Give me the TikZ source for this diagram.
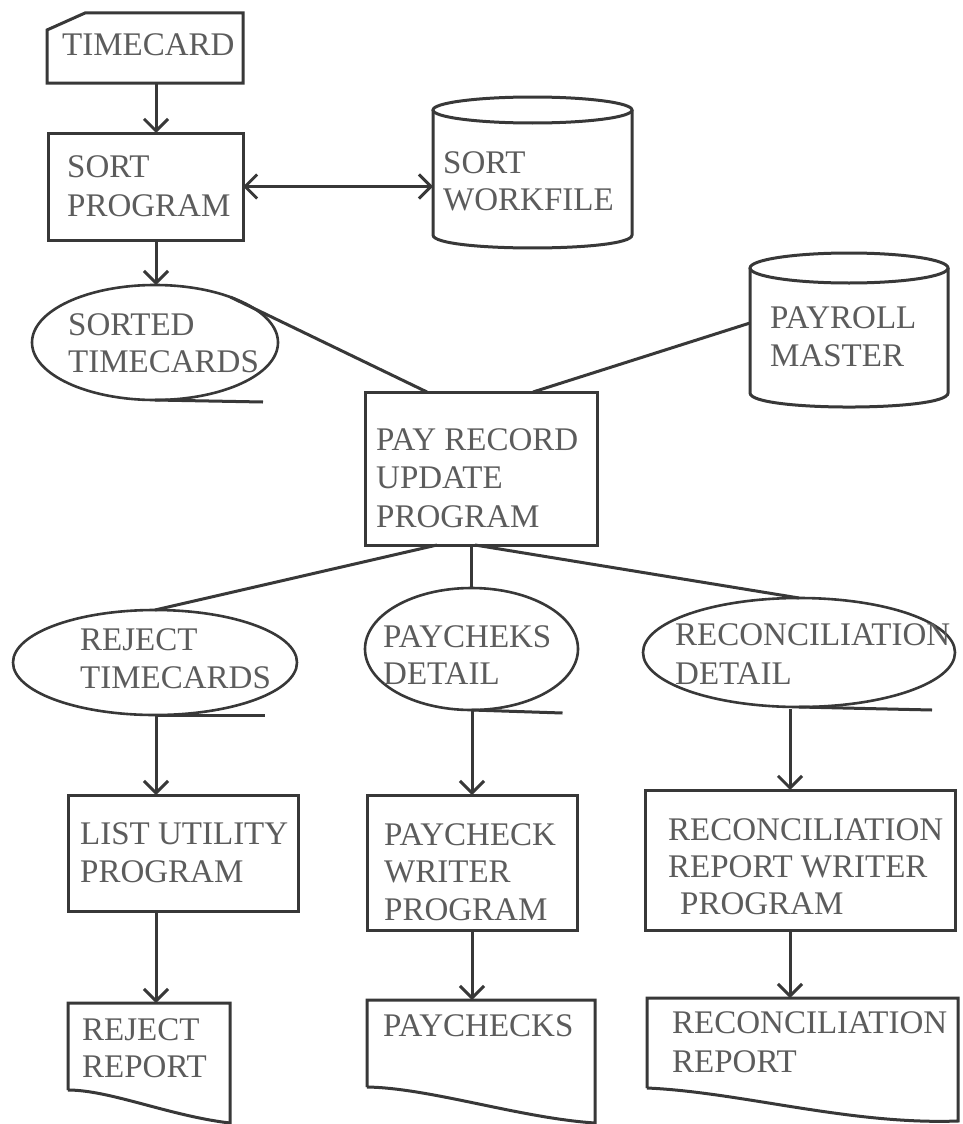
\documentclass[tikz,border=0pt]{standalone}
\usepackage{fontspec}
\setmainfont{Liberation Serif}
\usetikzlibrary{shapes.geometric,arrows.meta,calc}
\definecolor{lnc}{gray}{0.22}
\definecolor{txc}{gray}{0.36}
\begin{document}
\begin{tikzpicture}[x=1pt,y=-1pt,
  ln/.style={draw=lnc, line width=3pt},
  box/.style={rectangle, draw=lnc, line width=3pt, inner sep=0pt, outer sep=0pt},
  tape/.style={ellipse, draw=lnc, line width=2.6pt, inner sep=0pt, outer sep=0pt},
  hold/.style={rectangle, draw=none, inner sep=0pt, outer sep=0pt},
  txt/.style={text=txc, font=\fontsize{33}{38}\selectfont, inner sep=0pt, anchor=base west},
  arr/.style={ln, -{Straight Barb[length=12pt,width=24pt]}},
  darr/.style={ln, {Straight Barb[length=12pt,width=24pt]}-{Straight Barb[length=12pt,width=24pt]}}
]
\useasboundingbox (0,0) rectangle (962,1124);
\fill[white] (0,0) rectangle (962,1124);

% column coordinates
\coordinate (c1) at (156,0);
\coordinate (c2) at (472,0);
\coordinate (c3) at (790,0);

% TIMECARD (card)
\node[hold, minimum width=196pt, minimum height=70pt] (tc) at (145,48) {};
\draw[ln] ($(tc.north west)+(0,17)$) -- ($(tc.north west)+(38,0)$) -- (tc.north east) -- (tc.south east) -- (tc.south west) -- cycle;
\node[txt] (tct) at (62,56) {TIMECARD};

% SORT PROGRAM
\node[box, minimum width=195pt, minimum height=107pt] (sp) at (145.5,186.5) {};
\node[txt] (spt1) at (67,177) {SORT};
\node[txt] (spt2) at (67,216) {PROGRAM};

% SORT WORKFILE (disk)
\node[hold, minimum width=199pt, minimum height=151pt] (sw) at (532.5,172.5) {};
\draw[ln] (532.5,110) ellipse [x radius=99.5, y radius=13];
\draw[ln] (433,110) -- (433,235) .. controls (433,252.3) and (632,252.3) .. (632,235) -- (632,110);
\node[txt] (swt1) at (443,173) {SORT};
\node[txt] (swt2) at (443,210) {WORKFILE};

% SORTED TIMECARDS (tape)
\node[tape, minimum width=246pt, minimum height=115pt] (st) at (155,342.5) {};
\draw[ln] (st.south) -- ++(108,2);
\node[txt] (stt1) at (68,335) {SORTED};
\node[txt] (stt2) at (68,372) {TIMECARDS};

% PAYROLL MASTER (disk)
\node[hold, minimum width=198pt, minimum height=154pt] (pm) at (849,330) {};
\draw[ln] (849,268) ellipse [x radius=99, y radius=15];
\draw[ln] (750,268) -- (750,393) .. controls (750,411.7) and (948,411.7) .. (948,393) -- (948,268);
\node[txt] (pmt1) at (770,328) {PAYROLL};
\node[txt] (pmt2) at (770,366) {MASTER};

% PAY RECORD UPDATE PROGRAM
\node[box, minimum width=232pt, minimum height=153pt] (pr) at (481,468.5) {};
\node[txt] (prt1) at (376,450) {PAY RECORD};
\node[txt] (prt2) at (376,488) {UPDATE};
\node[txt] (prt3) at (376,527) {PROGRAM};

% lower tapes
\node[tape, minimum width=284pt, minimum height=105pt] (rt) at (155,662.5) {};
\draw[ln] (rt.south) -- ++(110,0);
\node[txt] (rtt1) at (80,650) {REJECT};
\node[txt] (rtt2) at (80,688) {TIMECARDS};

\node[tape, minimum width=213pt, minimum height=122pt] (pd) at (471.5,649) {};
\draw[ln] (pd.south) -- ++(91,3);
\node[txt] (pdt1) at (383,647) {PAYCHEKS};
\node[txt] (pdt2) at (383,684) {DETAIL};

\node[tape, minimum width=312pt, minimum height=109pt] (rd) at (799,652.5) {};
\draw[ln] (rd.south) -- ++(133,3);
\node[txt] (rdt1) at (675,645) {RECONCILIATION};
\node[txt] (rdt2) at (675,684) {DETAIL};

% middle programs
\node[box, minimum width=230pt, minimum height=116pt] (lu) at (183,853) {};
\node[txt] (lut1) at (80,844) {LIST UTILITY};
\node[txt] (lut2) at (80,882) {PROGRAM};

\node[box, minimum width=210pt, minimum height=135pt] (pw) at (472,862.5) {};
\node[txt] (pwt1) at (384,845) {PAYCHECK};
\node[txt] (pwt2) at (384,882) {WRITER};
\node[txt] (pwt3) at (384,920) {PROGRAM};

\node[box, minimum width=310pt, minimum height=140pt] (rw) at (800,860) {};
\node[txt] (rwt1) at (668,840) {RECONCILIATION};
\node[txt] (rwt2) at (668,877) {REPORT WRITER};
\node[txt] (rwt3) at (680,914) {PROGRAM};

% documents
\node[hold, minimum width=162pt, minimum height=121pt] (rr) at (149,1063.5) {};
\draw[ln] (68,1090) -- (68,1003) -- (230,1003) -- (230,1123) .. controls (170,1116) and (110,1090) .. (68,1090);
\node[txt] (rrt1) at (82,1040) {REJECT};
\node[txt] (rrt2) at (82,1077) {REPORT};

\node[hold, minimum width=228pt, minimum height=124pt] (pc) at (481,1062) {};
\draw[ln] (367,1087) -- (367,1000) -- (595,1000) -- (595,1123) .. controls (520,1118) and (430,1088) .. (367,1087);
\node[txt] (pct1) at (383,1036) {PAYCHECKS};

\node[hold, minimum width=311pt, minimum height=126pt] (rp) at (802.5,1061) {};
\draw[ln] (647,1088) -- (647,998) -- (958,998) -- (958,1121) .. controls (850,1125) and (740,1092) .. (647,1088);
\node[txt] (rpt1) at (672,1033) {RECONCILIATION};
\node[txt] (rpt2) at (672,1072) {REPORT};

% connectors
\draw[arr] (tc.south -| c1) -- (sp.north -| c1);
\draw[darr] (sp.east) -- (sp.east -| sw.west);
\draw[arr] (sp.south -| c1) -- (st.north -| c1);
\draw[ln] (st.31) -- ($(pr.north)+(-54,0)$);
\draw[ln] ($(pm.west)+(0,-7)$) -- ($(pr.north)+(52,0)$);
\draw[ln] ($(pr.south)+(-44,0)$) -- (rt.north);
\draw[ln] (pr.south -| pd.north) -- (pd.north);
\draw[ln] ($(pr.south)+(-6,0)$) -- (rd.north);
\draw[arr] (rt.south -| c1) -- (lu.north -| c1);
\draw[arr] (pd.south -| c2) -- (pw.north -| c2);
\draw[arr] ($(rd.south -| c3)+(0,2)$) -- (rw.north -| c3);
\draw[arr] (lu.south -| c1) -- (rr.north -| c1);
\draw[arr] (pw.south -| c2) -- (pc.north -| c2);
\draw[arr] (rw.south -| c3) -- (rp.north -| c3);
\end{tikzpicture}
\end{document}
